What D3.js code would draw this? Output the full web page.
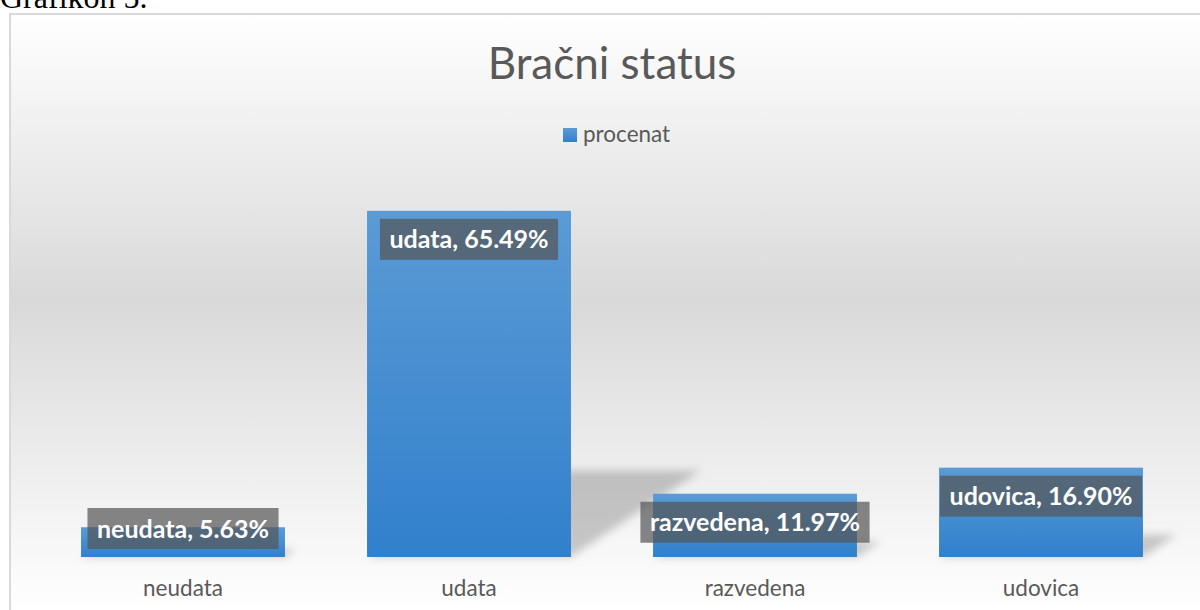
<!DOCTYPE html>
<html lang='en'>
  <head>
    <meta charset='utf-8'>
    <style type='text/css'>
      body {margin: 0; background-color: #fff; overflow: hidden;}
      #chart {width: 1200px; height: 610px;}
    </style>
  </head>
  <body>
    <div id='chart'><svg width='1200' height='610'></svg></div>

    <script src='https://d3js.org/d3.v7.min.js'></script>
    <script type='text/javascript'>
        // data
        var categories = ["neudata", "udata", "razvedena", "udovica"];
        var values     = [5.63, 65.49, 11.97, 16.90];
        var seriesName = "procenat";
        var title      = "Bračni status";

        var svg = d3.select("#chart svg");
        var defs = svg.append("defs");

        // background gradient of the chart area
        var bg = defs.append("linearGradient").attr("id", "bg")
            .attr("gradientUnits", "userSpaceOnUse")
            .attr("x1", 0).attr("y1", 14).attr("x2", 0).attr("y2", 610);
        bg.append("stop").attr("offset", "0%").attr("stop-color", "#ffffff");
        bg.append("stop").attr("offset", "48%").attr("stop-color", "#d9d9d9");
        bg.append("stop").attr("offset", "100%").attr("stop-color", "#ffffff");

        // bar gradient
        var bar = defs.append("linearGradient").attr("id", "barfill")
            .attr("x1", 0).attr("y1", 0).attr("x2", 0).attr("y2", 1);
        bar.append("stop").attr("offset", "0%").attr("stop-color", "#5b9bd5");
        bar.append("stop").attr("offset", "100%").attr("stop-color", "#3180cc");

        var blur = defs.append("filter").attr("id", "blur")
            .attr("x", "-20%").attr("y", "-20%").attr("width", "140%").attr("height", "140%");
        blur.append("feGaussianBlur").attr("stdDeviation", 4);

        // caption above the chart frame (cut off at the top, as in the source)
        svg.append("text")
            .attr("x", 0).attr("y", 8)
            .attr("font-family", "Liberation Serif, serif")
            .attr("font-size", 32)
            .attr("fill", "#000")
            .text("Grafikon 5.");

        // chart frame
        svg.append("rect")
            .attr("x", 10).attr("y", 14)
            .attr("width", 1205).attr("height", 610)
            .attr("fill", "url(#bg)")
            .attr("stroke", "#d9d9d9").attr("stroke-width", 2);

        var font = "Lato, 'Open Sans', sans-serif";

        // title
        svg.append("text")
            .attr("x", 612).attr("y", 79)
            .attr("text-anchor", "middle")
            .attr("font-family", font)
            .attr("font-size", 44)
            .attr("fill", "#595959")
            .text(title);

        // legend
        var legend = svg.append("g").attr("transform", "translate(563,128)");
        legend.append("rect")
            .attr("width", 14).attr("height", 14)
            .attr("fill", "url(#barfill)");
        legend.append("text")
            .attr("x", 20).attr("y", 14)
            .attr("font-family", font)
            .attr("font-size", 22.5)
            .attr("fill", "#595959")
            .text(seriesName);

        // scales
        var x = d3.scaleBand().domain(categories).range([40, 1184])
            .paddingInner(0.287).paddingOuter(0.1435);
        var y = d3.scaleLinear().domain([0, 70]).range([557, 187]);

        var data = categories.map(function(c, i) { return {cat: c, val: values[i]}; });

        // perspective shadows
        svg.append("g").attr("filter", "url(#blur)")
          .selectAll("polygon")
          .data(data)
          .enter().append("polygon")
            .attr("fill", "#000").attr("fill-opacity", 0.2)
            .attr("points", function(d) {
                var x0 = x(d.cat), x1 = x0 + x.bandwidth();
                var h = (y(0) - y(d.val)) * 0.25, s = h * 1.5;
                return [[x0, y(0)], [x1, y(0)], [x1 + s, y(0) - h], [x0 + s, y(0) - h]].join(" ");
            });

        // bars
        svg.selectAll(".bar")
          .data(data)
          .enter().append("rect")
            .attr("class", "bar")
            .attr("x", function(d) { return x(d.cat); })
            .attr("y", function(d) { return y(d.val); })
            .attr("width", x.bandwidth())
            .attr("height", function(d) { return y(0) - y(d.val); })
            .attr("fill", "url(#barfill)");

        // x axis labels
        var axis = svg.append("g")
            .attr("transform", "translate(0,557)")
            .call(d3.axisBottom(x).tickSize(0).tickPadding(23));
        axis.select(".domain").remove();
        axis.selectAll("text")
            .attr("font-family", font)
            .attr("font-size", 22.5)
            .attr("fill", "#595959");

        // data labels: boxed, inside end of the bar
        var boxH = 41;
        var labels = svg.selectAll(".lab")
          .data(data)
          .enter().append("g")
            .attr("class", "lab");
        labels.each(function(d) {
            var g = d3.select(this);
            var t = g.append("text")
                .attr("font-family", font)
                .attr("font-weight", "bold")
                .attr("font-size", 25)
                .attr("fill", "#fff")
                .attr("text-anchor", "middle")
                .text(d.cat + ", " + d.val.toFixed(2) + "%");
            var w = t.node().getComputedTextLength() + 19;
            var cx = x(d.cat) + x.bandwidth() / 2;
            var top = Math.min(y(d.val) + 8, y(0) - 8 - boxH);
            g.insert("rect", "text")
                .attr("x", cx - w / 2).attr("y", top)
                .attr("width", w).attr("height", boxH)
                .attr("fill", "rgb(84,84,84)").attr("fill-opacity", 0.71);
            t.attr("x", cx).attr("y", top + boxH / 2 + 9);
        });
    </script>
  </body>
</html>
